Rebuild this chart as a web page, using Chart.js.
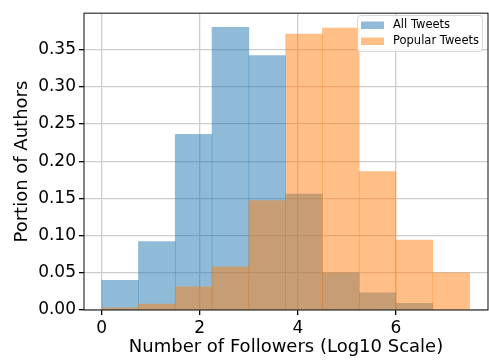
<!DOCTYPE html>
<html>
<head>
<meta charset="utf-8">
<script src="https://cdn.jsdelivr.net/npm/chart.js@4"></script>
<style>
  html, body { margin: 0; padding: 0; background: #fff; }
  #wrap { width: 489px; height: 360px; }
</style>
</head>
<body>
<div id="wrap"><canvas id="chart" width="489" height="360"></canvas></div>
<script>
// histogram bins (log10 of follower count)
const binEdges = [0, 0.75, 1.5, 2.25, 3.0, 3.75, 4.5, 5.25, 6.0, 6.75, 7.5];
const allTweets = [0.040, 0.092, 0.236, 0.380, 0.342, 0.156, 0.050, 0.023, 0.009];
const popularTweets = [0.003, 0.008, 0.031, 0.058, 0.147, 0.371, 0.379, 0.186, 0.094, 0.050];
const xTicks = [0, 2, 4, 6];
const yTicks = [0, 0.05, 0.10, 0.15, 0.20, 0.25, 0.30, 0.35];
const seriesNames = ['All Tweets', 'Popular Tweets'];

const blue = 'rgba(31, 119, 180, 0.5)';
const orange = 'rgba(255, 127, 14, 0.5)';
const font = 'DejaVu Sans';

function toPoints(vals) {
  return vals.map((v, i) => ({ x: (binEdges[i] + binEdges[i + 1]) / 2, y: v }));
}

// frame (all four spines) + legend box
const framePlugin = {
  id: 'frame',
  afterDraw(chart) {
    const { ctx, chartArea: a } = chart;
    ctx.save();
    ctx.strokeStyle = '#222';
    ctx.lineWidth = 1.1;
    ctx.strokeRect(a.left, a.top, a.right - a.left, a.bottom - a.top);

    // legend
    const lx = 357, ly = 15, lw = 125, lh = 36;
    ctx.fillStyle = 'rgba(255,255,255,0.8)';
    ctx.strokeStyle = '#d6d6d6';
    ctx.lineWidth = 1;
    ctx.beginPath();
    ctx.roundRect(lx + 0.5, ly + 0.5, lw, lh, 3);
    ctx.fill();
    ctx.stroke();
    const colors = [blue, orange];
    ctx.font = '11.5px "' + font + '"';
    ctx.textBaseline = 'middle';
    seriesNames.forEach((name, i) => {
      const y = 21.5 + i * 16;
      ctx.fillStyle = colors[i];
      ctx.fillRect(361, y, 23, 7.5);
      ctx.fillStyle = '#000';
      ctx.fillText(name, 393, y + 4);
    });
    ctx.restore();
  }
};

new Chart(document.getElementById('chart'), {
  type: 'bar',
  data: {
    datasets: [
      {
        label: seriesNames[0],
        data: toPoints(allTweets),
        backgroundColor: blue,
        borderWidth: 0,
        order: 2
      },
      {
        label: seriesNames[1],
        data: toPoints(popularTweets),
        backgroundColor: orange,
        borderWidth: 0,
        order: 1
      }
    ]
  },
  options: {
    responsive: false,
    animation: false,
    layout: { padding: { top: 9, right: 1, left: 0, bottom: 0 } },
    datasets: {
      bar: { grouped: false, barPercentage: 1, categoryPercentage: 1 }
    },
    plugins: { legend: { display: false }, tooltip: { enabled: false } },
    scales: {
      x: {
        type: 'linear',
        offset: false,
        min: -0.36,
        max: 7.875,
        afterBuildTicks: (s) => { s.ticks = xTicks.map(v => ({ value: v })); },
        afterFit: (s) => { s.height = 50; },
        grid: { offset: false, color: '#cdcdcd', lineWidth: 1.3, tickColor: '#000', tickLength: 5 },
        border: { display: false },
        ticks: { color: '#000', font: { family: font, size: 17 }, padding: 3, maxRotation: 0 },
        title: {
          display: true,
          text: 'Number of Followers (Log10 Scale)',
          color: '#000',
          font: { family: font, size: 18 },
          padding: { top: 2, bottom: 2 }
        }
      },
      y: {
        min: 0,
        max: 0.399,
        afterBuildTicks: (s) => { s.ticks = yTicks.map(v => ({ value: v })); },
        afterFit: (s) => { s.width = 84; },
        grid: { color: '#cdcdcd', lineWidth: 1.3, tickColor: '#000', tickLength: 5 },
        border: { display: false },
        ticks: { color: '#000', font: { family: font, size: 17 }, padding: 3, callback: (v) => v.toFixed(2) },
        title: {
          display: true,
          text: 'Portion of Authors',
          color: '#000',
          font: { family: font, size: 18 },
          padding: { top: 12, bottom: 12 }
        }
      }
    }
  },
  plugins: [framePlugin]
});
</script>
</body>
</html>
